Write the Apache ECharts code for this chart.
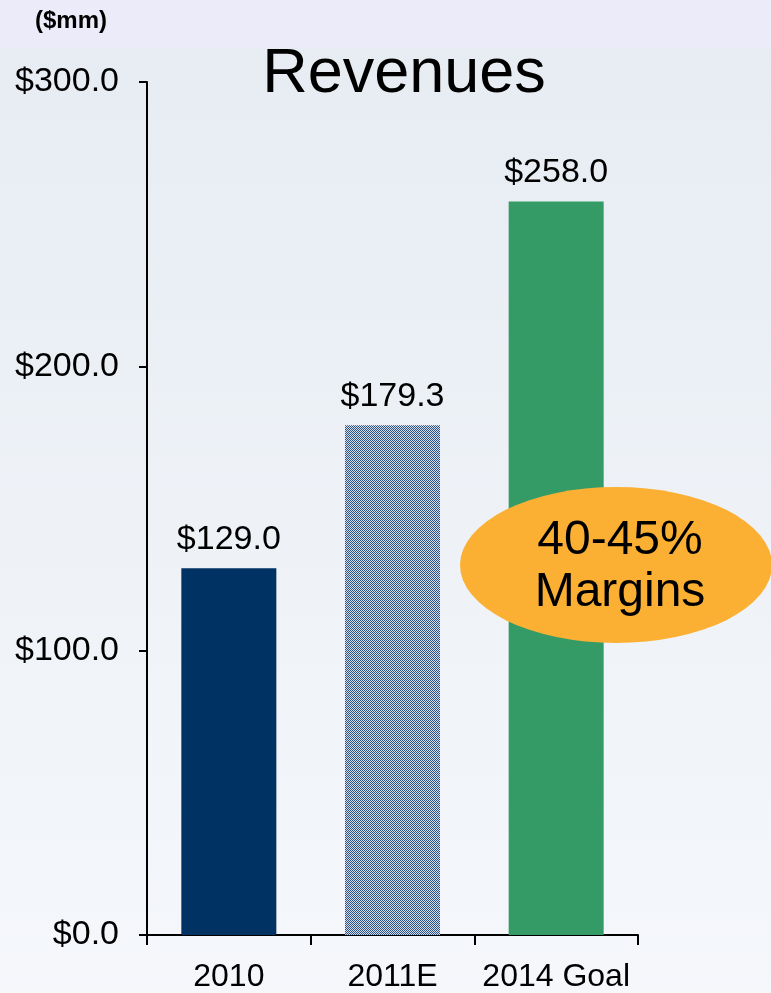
<!DOCTYPE html>
<html><head><meta charset="utf-8">
<script src="https://cdn.jsdelivr.net/npm/echarts@6/dist/echarts.min.js"></script>
<style>html,body{margin:0;padding:0;}#c{width:771px;height:993px;}</style>
</head><body><div id="c"></div>
<script>
var categories = ['2010', '2011E', '2014 Goal'];
var revenues = [129.0, 179.3, 258.0];
var yTicks = [0, 100, 200, 300];
var titleText = 'Revenues';
var unitText = '($mm)';
var noteLines = ['40-45%', 'Margins'];

var pc = document.createElement('canvas');
pc.width = 2; pc.height = 2;
var ctx = pc.getContext('2d');
ctx.fillStyle = '#d6deea'; ctx.fillRect(0,0,2,2);
ctx.fillStyle = '#2a5288'; ctx.fillRect(0,0,1,1); ctx.fillRect(1,1,1,1);

var barColors = ['#003263', {image: pc, repeat: 'repeat'}, '#359b66'];
var font = 'Liberation Sans, Arial, sans-serif';

var chart = echarts.init(document.getElementById('c'));
chart.setOption({
  backgroundColor: {type:'linear', x:0, y:0, x2:0, y2:1, colorStops:[{offset:0, color:'#e6ecf2'},{offset:1, color:'#f5f7fb'}]},
  animation: false,
  grid: {left:147, right:133, top:82, bottom:56, containLabel:false},
  xAxis: {
    type:'category', data: categories,
    axisLine:{lineStyle:{color:'#000', width:2}},
    axisTick:{show:true, interval:0, length:10, lineStyle:{color:'#000', width:2}},
    axisLabel:{color:'#000', interval:0, fontSize:32, fontFamily:font, margin:26}
  },
  yAxis: {
    type:'value', min:0, max:300, interval:100,
    axisLine:{show:true, lineStyle:{color:'#000', width:2}},
    axisTick:{show:true, length:8, lineStyle:{color:'#000', width:2}},
    splitLine:{show:false},
    axisLabel:{color:'#000', fontSize:34, fontFamily:font, margin:28,
      formatter:function(v){ return yTicks.indexOf(v) >= 0 ? '$' + v.toFixed(1) : ''; }}
  },
  series: [{
    type:'bar', barWidth:95,
    data: revenues.map(function(v,i){ return {value:v, itemStyle:{color:barColors[i]}}; }),
    label:{show:true, position:'top', distance:12, color:'#000', fontSize:34, fontFamily:font,
      formatter:function(p){ return '$' + p.value.toFixed(1); }}
  }],
  graphic: [
    {type:'rect', left:0, top:0, z:-1, shape:{width:771, height:48}, style:{fill:'#ecebfa'}},
    {type:'text', left:35, top:9, style:{text:unitText, font:'bold 24px ' + font, fill:'#000'}},
    {type:'text', x:404, y:75, style:{text:titleText, font:'63px ' + font, fill:'#000', textAlign:'center', textVerticalAlign:'middle'}},
    {type:'circle', x:616, y:565, scaleX:2.0, scaleY:1.0, shape:{cx:0, cy:0, r:78}, style:{fill:'#fbb034'}, z:10},
    {type:'text', x:620, y:567, z:11, style:{text:noteLines.join('\n'), font:'48px ' + font, fill:'#000', textAlign:'center', textVerticalAlign:'middle', lineHeight:52}}
  ]
});
</script></body></html>
